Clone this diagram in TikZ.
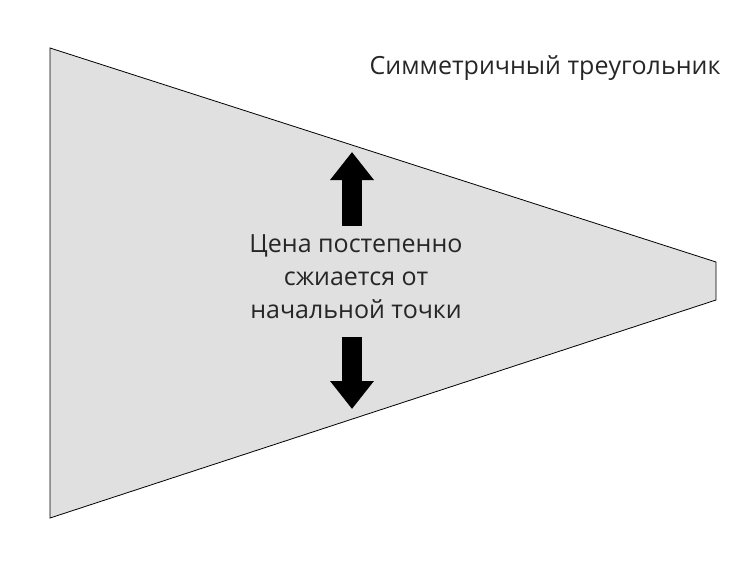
\documentclass[tikz,border=0pt]{standalone}
\usepackage{fontspec}
\setmainfont{Open Sans}
\usetikzlibrary{arrows.meta}
\tikzset{
  blockarrow/.style={line width=20pt, -{Triangle[width=42pt,length=28pt]}},
  label/.style={font=\fontsize{25}{33}\selectfont, text=black!85},
}
\begin{document}
\begin{tikzpicture}[x=1pt,y=-1pt]
        \useasboundingbox (0,0) rectangle (754,578);

        \draw[fill=black!12, line width=0.8pt] (50,48) -- (716,262) -- (716,300) -- (50,518) -- cycle;

        \node[label] (title) at (545,68) {Симметричный треугольник};
        \node[label, align=center] (price) at (356,277) {Цена постепенно\\сжиается от\\начальной точки};

        \coordinate (upstart) at (352,226);
        \coordinate (upend) at (352,152);
        \coordinate (downstart) at (352,337);
        \coordinate (downend) at (352,409);

        \draw[blockarrow] (upstart) -- (upend);
        \draw[blockarrow] (downstart) -- (downend);
    \end{tikzpicture}
\end{document}
